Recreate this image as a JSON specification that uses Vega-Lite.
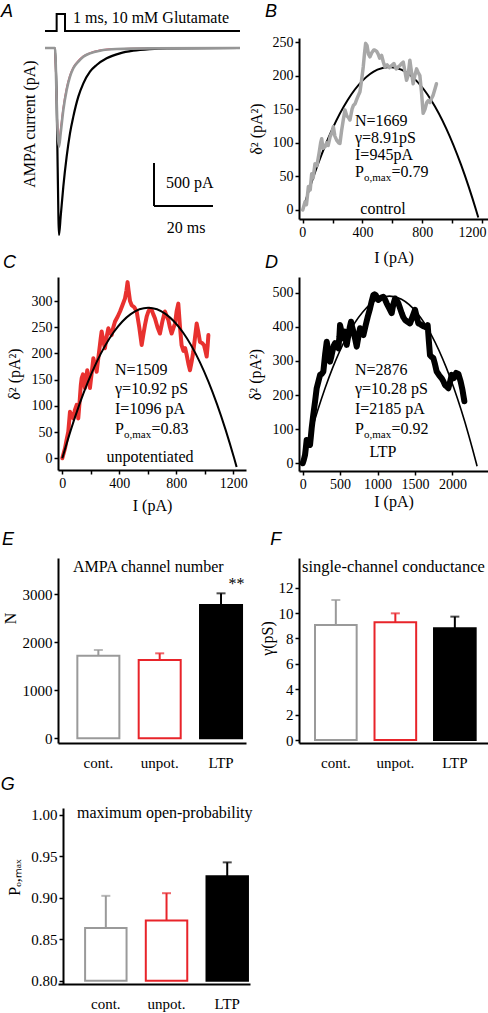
{
  "$schema": "https://vega.github.io/schema/vega-lite/v6.json",
  "autosize": {"type": "none", "contains": "content"},
  "padding": {"left": 58, "top": 38, "right": 430, "bottom": 975},
  "background": "white",
  "columns": 2,
  "spacing": {"row": 0, "column": 49},
  "bounds": "flush",
  "align": "each",
  "config": {
    "view": {"stroke": null},
    "axis": {"domainColor": "black", "domainWidth": 2, "tickColor": "black", "tickWidth": 1.5, "tickSize": 4, "labelFont": "Liberation Serif", "labelFontSize": 14, "labelColor": "black", "labelPadding": 2, "labelOverlap": false, "labelFlush": false, "labelBound": false, "titleFont": "Liberation Serif", "titleFontSize": 16, "titleFontWeight": "normal", "titleColor": "black", "grid": false},
    "text": {"font": "Liberation Serif", "fontSize": 16, "color": "black"}
  },
  "concat": [
    {
      "width": 188, "height": 181,
      "layer": [
        {"data": {"values": [{"t":0,"pA":198},{"t":3.95,"pA":395},{"t":6.78,"pA":198},{"t":66.1,"pA":198}]},
         "mark": {"type": "line", "color": "black", "strokeWidth": 2, "interpolate": "step-after"},
         "encoding": {"x": {"field": "t", "type": "quantitative", "scale": {"domain": [4.407, 68.14], "nice": false, "zero": false}, "axis": null},
                      "y": {"field": "pA", "type": "quantitative", "scale": {"domain": [-1988.4, 116.3], "nice": false, "zero": false}, "axis": null}}},
        {"data": {"values": [{"t":0,"pA":0},{"t":3.39,"pA":0},{"t":3.95,"pA":-605},{"t":4.29,"pA":-1380},{"t":4.75,"pA":-2175},{"t":5.31,"pA":-1962},{"t":6.21,"pA":-1613},{"t":7.34,"pA":-1264},{"t":8.47,"pA":-992},{"t":9.6,"pA":-798},{"t":11.3,"pA":-566},{"t":13.0,"pA":-411},{"t":15.25,"pA":-275},{"t":17.5,"pA":-198},{"t":20.9,"pA":-120},{"t":25.4,"pA":-62},{"t":29.9,"pA":-31},{"t":35.6,"pA":-12},{"t":41.3,"pA":-4},{"t":66.1,"pA":0}]},
         "mark": {"type": "line", "color": "black", "strokeWidth": 2.2, "interpolate": "monotone"},
         "encoding": {"x": {"field": "t", "type": "quantitative"}, "y": {"field": "pA", "type": "quantitative"}}},
        {"data": {"values": [{"t":3.39,"pA":0},{"t":3.95,"pA":-600},{"t":4.29,"pA":-950},{"t":4.75,"pA":-1089},{"t":5.31,"pA":-940},{"t":6.21,"pA":-690},{"t":7.34,"pA":-465},{"t":8.47,"pA":-318},{"t":9.6,"pA":-225},{"t":11.3,"pA":-150},{"t":13.0,"pA":-95},{"t":15.25,"pA":-58},{"t":18.6,"pA":-28},{"t":24.3,"pA":-10},{"t":35.6,"pA":-3},{"t":66.1,"pA":0}]},
         "mark": {"type": "line", "color": "#e0405e", "strokeWidth": 1.6, "interpolate": "monotone"},
         "encoding": {"x": {"field": "t", "type": "quantitative"}, "y": {"field": "pA", "type": "quantitative"}}},
        {"data": {"values": [{"t":0,"pA":0},{"t":3.39,"pA":0},{"t":3.95,"pA":-605},{"t":4.29,"pA":-992},{"t":4.75,"pA":-1147},{"t":5.31,"pA":-992},{"t":6.21,"pA":-721},{"t":7.34,"pA":-488},{"t":8.47,"pA":-333},{"t":9.6,"pA":-236},{"t":11.3,"pA":-159},{"t":13.0,"pA":-101},{"t":15.25,"pA":-62},{"t":18.6,"pA":-31},{"t":24.3,"pA":-12},{"t":35.6,"pA":-4},{"t":66.1,"pA":0}]},
         "mark": {"type": "line", "color": "#969696", "strokeWidth": 2.6, "interpolate": "monotone"},
         "encoding": {"x": {"field": "t", "type": "quantitative"}, "y": {"field": "pA", "type": "quantitative"}}},
        {"data": {"values": [{}]}, "mark": {"type": "rule", "color": "black", "strokeWidth": 2},
         "encoding": {"x": {"datum": 36.95, "type": "quantitative"}, "y": {"datum": -1337, "type": "quantitative"}, "y2": {"datum": -1837}}},
        {"data": {"values": [{}]}, "mark": {"type": "rule", "color": "black", "strokeWidth": 2},
         "encoding": {"x": {"datum": 36.95, "type": "quantitative"}, "x2": {"datum": 56.95}, "y": {"datum": -1837, "type": "quantitative"}}},
        {"data": {"values": [{}]}, "mark": {"type": "text", "align": "left", "baseline": "alphabetic", "fontSize": 16},
         "encoding": {"x": {"datum": 9.49, "type": "quantitative"}, "y": {"datum": 290.7, "type": "quantitative"}, "text": {"value": "1 ms, 10 mM Glutamate"}}},
        {"data": {"values": [{}]}, "mark": {"type": "text", "align": "left", "baseline": "alphabetic", "fontSize": 16},
         "encoding": {"x": {"datum": 41.0, "type": "quantitative"}, "y": {"datum": -1628, "type": "quantitative"}, "text": {"value": "500 pA"}}},
        {"data": {"values": [{}]}, "mark": {"type": "text", "align": "left", "baseline": "alphabetic", "fontSize": 16},
         "encoding": {"x": {"datum": 41.25, "type": "quantitative"}, "y": {"datum": -2151, "type": "quantitative"}, "text": {"value": "20 ms"}}},
        {"data": {"values": [{}]}, "mark": {"type": "text", "align": "center", "baseline": "alphabetic", "fontSize": 16, "angle": 270},
         "encoding": {"x": {"datum": -3.39, "type": "quantitative"}, "y": {"datum": -883.7, "type": "quantitative"}, "text": {"value": "AMPA current (pA)"}}},
        {"data": {"values": [{}]}, "mark": {"type": "text", "align": "left", "baseline": "alphabetic", "fontSize": 18, "font": "Liberation Sans", "fontStyle": "italic"},
         "encoding": {"x": {"datum": -14.9, "type": "quantitative"}, "y": {"datum": 360.5, "type": "quantitative"}, "text": {"value": "A"}}}
      ]
    },
    {
      "width": 189, "height": 181,
      "layer": [
        {"data": {"values": [{"I":0,"v":0},{"I":50,"v":35.1},{"I":100,"v":67.1},{"I":150,"v":95.9},{"I":200,"v":121.6},{"I":300,"v":163.4},{"I":400,"v":192.5},{"I":500,"v":208.9},{"I":580,"v":213},{"I":660,"v":208.9},{"I":760,"v":192.5},{"I":860,"v":163.4},{"I":960,"v":121.6},{"I":1060,"v":67.1},{"I":1110,"v":35.1},{"I":1160,"v":0},{"I":1175,"v":-11.2}]},
         "mark": {"type": "line", "color": "black", "strokeWidth": 2, "interpolate": "monotone"},
         "encoding": {"x": {"field": "I", "type": "quantitative", "scale": {"domain": [-25, 1240], "nice": false, "zero": false},
                            "axis": {"values": [0,200,400,600,800,1000,1200], "tickCount": 20, "format": "d", "labelExpr": "datum.value % 400 === 0 ? datum.label : ''", "labelFlush": 10, "labelFlushOffset": 4, "title": "I (pA)", "titlePadding": 10}},
                      "y": {"field": "v", "type": "quantitative", "scale": {"domain": [-13.4, 256], "nice": false, "zero": false},
                            "axis": {"values": [0,50,100,150,200,250], "tickCount": 20, "format": "d", "title": "δ² (pA²)", "titlePadding": 8}}}},
        {"data": {"values": [{"I":0,"v":0},{"I":15,"v":12},{"I":25,"v":8},{"I":38,"v":35},{"I":50,"v":30},{"I":60,"v":54},{"I":70,"v":48},{"I":82,"v":69},{"I":95,"v":66},{"I":109,"v":84},{"I":120,"v":100},{"I":127,"v":106},{"I":135,"v":92},{"I":149,"v":94},{"I":160,"v":100},{"I":170,"v":96},{"I":183,"v":109},{"I":195,"v":115},{"I":205,"v":124},{"I":215,"v":110},{"I":227,"v":104},{"I":240,"v":100},{"I":249,"v":99},{"I":260,"v":118},{"I":272,"v":135},{"I":283,"v":149},{"I":295,"v":140},{"I":305,"v":138},{"I":316,"v":134},{"I":330,"v":150},{"I":340,"v":156},{"I":350,"v":158},{"I":362,"v":165},{"I":375,"v":172},{"I":383,"v":176},{"I":395,"v":195},{"I":405,"v":213},{"I":413,"v":232},{"I":421,"v":248},{"I":430,"v":245},{"I":440,"v":232},{"I":450,"v":228},{"I":462,"v":234},{"I":475,"v":238},{"I":483,"v":238},{"I":495,"v":236},{"I":505,"v":232},{"I":515,"v":226},{"I":528,"v":230},{"I":540,"v":220},{"I":550,"v":213},{"I":565,"v":216},{"I":580,"v":212},{"I":595,"v":215},{"I":610,"v":218},{"I":625,"v":210},{"I":639,"v":213},{"I":650,"v":215},{"I":662,"v":218},{"I":673,"v":220},{"I":685,"v":205},{"I":695,"v":193},{"I":705,"v":200},{"I":717,"v":223},{"I":728,"v":205},{"I":739,"v":188},{"I":750,"v":200},{"I":762,"v":210},{"I":772,"v":205},{"I":784,"v":200},{"I":795,"v":175},{"I":806,"v":144},{"I":818,"v":150},{"I":830,"v":160},{"I":840,"v":163},{"I":852,"v":160},{"I":862,"v":166},{"I":873,"v":171},{"I":885,"v":180},{"I":895,"v":188}]},
         "mark": {"type": "line", "color": "#a8a8a8", "strokeWidth": 3.5, "strokeJoin": "round", "strokeCap": "round"},
         "encoding": {"x": {"field": "I", "type": "quantitative"}, "y": {"field": "v", "type": "quantitative"}}},
        {"data": {"values": [{}]}, "mark": {"type": "text", "align": "left", "baseline": "alphabetic", "fontSize": 16, "lineHeight": 17},
         "encoding": {"x": {"datum": 350, "type": "quantitative"}, "y": {"datum": 125, "type": "quantitative"}, "text": {"value": ["N=1669", "γ=8.91pS", "I=945pA"]}}},
        {"data": {"values": [{}]}, "mark": {"type": "text", "align": "left", "baseline": "alphabetic", "fontSize": 16},
         "encoding": {"x": {"datum": 350, "type": "quantitative"}, "y": {"datum": 49.1, "type": "quantitative"}, "text": {"value": "P"}}},
        {"data": {"values": [{}]}, "mark": {"type": "text", "align": "left", "baseline": "alphabetic", "fontSize": 11, "dx": 9, "dy": 4},
         "encoding": {"x": {"datum": 350, "type": "quantitative"}, "y": {"datum": 49.1, "type": "quantitative"}, "text": {"value": "o,max"}}},
        {"data": {"values": [{}]}, "mark": {"type": "text", "align": "left", "baseline": "alphabetic", "fontSize": 16, "dx": 36.5},
         "encoding": {"x": {"datum": 350, "type": "quantitative"}, "y": {"datum": 49.1, "type": "quantitative"}, "text": {"value": "=0.79"}}},
        {"data": {"values": [{}]}, "mark": {"type": "text", "align": "center", "baseline": "alphabetic", "fontSize": 16},
         "encoding": {"x": {"datum": 537, "type": "quantitative"}, "y": {"datum": -6, "type": "quantitative"}, "text": {"value": "control"}}},
        {"data": {"values": [{}]}, "mark": {"type": "text", "align": "left", "baseline": "alphabetic", "fontSize": 18, "font": "Liberation Sans", "fontStyle": "italic"},
         "encoding": {"x": {"datum": -252, "type": "quantitative"}, "y": {"datum": 287.2, "type": "quantitative"}, "text": {"value": "B"}}}
      ]
    },
    {"width": 10, "height": 58, "data": {"values": []}, "mark": "point"},
    {"width": 10, "height": 58, "data": {"values": []}, "mark": "point"},
    {
      "width": 188, "height": 193,
      "layer": [
        {"data": {"values": [{"I":0,"v":0},{"I":10,"v":10},{"I":19,"v":19},{"I":30,"v":35},{"I":42,"v":51},{"I":48,"v":70},{"I":54,"v":89},{"I":62,"v":80},{"I":70,"v":85},{"I":77,"v":76},{"I":88,"v":92},{"I":101,"v":102},{"I":107,"v":90},{"I":112,"v":76},{"I":122,"v":110},{"I":130,"v":140},{"I":136,"v":153},{"I":145,"v":160},{"I":152,"v":145},{"I":159,"v":134},{"I":167,"v":150},{"I":175,"v":168},{"I":185,"v":150},{"I":194,"v":134},{"I":205,"v":160},{"I":218,"v":191},{"I":228,"v":180},{"I":241,"v":165},{"I":252,"v":190},{"I":264,"v":216},{"I":270,"v":230},{"I":276,"v":242},{"I":287,"v":225},{"I":299,"v":210},{"I":310,"v":230},{"I":323,"v":248},{"I":335,"v":240},{"I":346,"v":235},{"I":358,"v":250},{"I":370,"v":261},{"I":388,"v":270},{"I":405,"v":280},{"I":422,"v":292},{"I":440,"v":305},{"I":450,"v":320},{"I":458,"v":336},{"I":465,"v":320},{"I":475,"v":300},{"I":487,"v":292},{"I":505,"v":288},{"I":522,"v":280},{"I":540,"v":250},{"I":557,"v":216},{"I":568,"v":235},{"I":580,"v":254},{"I":592,"v":270},{"I":604,"v":280},{"I":615,"v":285},{"I":627,"v":283},{"I":638,"v":275},{"I":650,"v":267},{"I":668,"v":250},{"I":685,"v":238},{"I":703,"v":262},{"I":720,"v":280},{"I":732,"v":272},{"I":744,"v":264},{"I":755,"v":250},{"I":767,"v":238},{"I":779,"v":248},{"I":791,"v":257},{"I":802,"v":280},{"I":814,"v":295},{"I":826,"v":250},{"I":837,"v":216},{"I":850,"v":205},{"I":862,"v":210},{"I":873,"v":197},{"I":885,"v":180},{"I":896,"v":168},{"I":908,"v":185},{"I":919,"v":203},{"I":931,"v":230},{"I":943,"v":257},{"I":955,"v":240},{"I":966,"v":222},{"I":980,"v":220},{"I":994,"v":216},{"I":1004,"v":205},{"I":1013,"v":194},{"I":1020,"v":215},{"I":1025,"v":235}]},
         "mark": {"type": "line", "color": "#e8312f", "strokeWidth": 4, "strokeJoin": "round", "strokeCap": "round"},
         "encoding": {"x": {"field": "I", "type": "quantitative", "scale": {"domain": [-30.2, 1289], "nice": false, "zero": false},
                            "axis": {"values": [0,200,400,600,800,1000,1200], "tickCount": 20, "format": "d", "labelExpr": "datum.value % 400 === 0 ? datum.label : ''", "title": "I (pA)", "titlePadding": 7}},
                      "y": {"field": "v", "type": "quantitative", "scale": {"domain": [-22.3, 345.8], "nice": false, "zero": false},
                            "axis": {"values": [0,50,100,150,200,250,300], "tickCount": 20, "format": "d", "title": "δ² (pA²)", "titlePadding": 9}}}},
        {"data": {"values": [{"I":0,"v":0},{"I":60,"v":54.3},{"I":120,"v":102.9},{"I":180,"v":145.8},{"I":240,"v":183},{"I":360,"v":240.4},{"I":480,"v":275.1},{"I":603,"v":287},{"I":726,"v":275.1},{"I":846,"v":240.4},{"I":966,"v":183},{"I":1026,"v":145.8},{"I":1086,"v":102.9},{"I":1146,"v":54.3},{"I":1206,"v":0},{"I":1223,"v":-16.4}]},
         "mark": {"type": "line", "color": "black", "strokeWidth": 2, "interpolate": "monotone"},
         "encoding": {"x": {"field": "I", "type": "quantitative"}, "y": {"field": "v", "type": "quantitative"}}},
        {"data": {"values": [{}]}, "mark": {"type": "text", "align": "left", "baseline": "alphabetic", "fontSize": 16, "lineHeight": 19.5},
         "encoding": {"x": {"datum": 370, "type": "quantitative"}, "y": {"datum": 158.9, "type": "quantitative"}, "text": {"value": ["N=1509", "γ=10.92 pS", "I=1096 pA"]}}},
        {"data": {"values": [{}]}, "mark": {"type": "text", "align": "left", "baseline": "alphabetic", "fontSize": 16},
         "encoding": {"x": {"datum": 370, "type": "quantitative"}, "y": {"datum": 47.3, "type": "quantitative"}, "text": {"value": "P"}}},
        {"data": {"values": [{}]}, "mark": {"type": "text", "align": "left", "baseline": "alphabetic", "fontSize": 11, "dx": 9, "dy": 4},
         "encoding": {"x": {"datum": 370, "type": "quantitative"}, "y": {"datum": 47.3, "type": "quantitative"}, "text": {"value": "o,max"}}},
        {"data": {"values": [{}]}, "mark": {"type": "text", "align": "left", "baseline": "alphabetic", "fontSize": 16, "dx": 36.5},
         "encoding": {"x": {"datum": 370, "type": "quantitative"}, "y": {"datum": 47.3, "type": "quantitative"}, "text": {"value": "=0.83"}}},
        {"data": {"values": [{}]}, "mark": {"type": "text", "align": "center", "baseline": "alphabetic", "fontSize": 16},
         "encoding": {"x": {"datum": 615, "type": "quantitative"}, "y": {"datum": -7.1, "type": "quantitative"}, "text": {"value": "unpotentiated"}}},
        {"data": {"values": [{}]}, "mark": {"type": "text", "align": "left", "baseline": "alphabetic", "fontSize": 18, "font": "Liberation Sans", "fontStyle": "italic"},
         "encoding": {"x": {"datum": -416, "type": "quantitative"}, "y": {"datum": 363, "type": "quantitative"}, "text": {"value": "C"}}}
      ]
    },
    {
      "width": 189, "height": 194,
      "layer": [
        {"data": {"values": [{"I":0,"v":0},{"I":15,"v":10},{"I":31,"v":24},{"I":42,"v":45},{"I":53,"v":68},{"I":75,"v":60},{"I":98,"v":54},{"I":110,"v":80},{"I":120,"v":103},{"I":140,"v":140},{"I":165,"v":181},{"I":187,"v":220},{"I":210,"v":240},{"I":232,"v":259},{"I":255,"v":262},{"I":276,"v":269},{"I":300,"v":320},{"I":321,"v":356},{"I":340,"v":330},{"I":365,"v":298},{"I":380,"v":310},{"I":396,"v":327},{"I":415,"v":345},{"I":432,"v":352},{"I":455,"v":345},{"I":477,"v":337},{"I":490,"v":370},{"I":499,"v":405},{"I":520,"v":385},{"I":543,"v":366},{"I":555,"v":375},{"I":566,"v":386},{"I":578,"v":365},{"I":588,"v":347},{"I":610,"v":375},{"I":630,"v":400},{"I":646,"v":415},{"I":660,"v":400},{"I":677,"v":386},{"I":700,"v":365},{"I":722,"v":342},{"I":744,"v":370},{"I":766,"v":396},{"I":790,"v":385},{"I":811,"v":376},{"I":826,"v":390},{"I":842,"v":405},{"I":870,"v":430},{"I":900,"v":454},{"I":922,"v":475},{"I":944,"v":493},{"I":960,"v":495},{"I":976,"v":493},{"I":994,"v":485},{"I":1011,"v":479},{"I":1045,"v":485},{"I":1078,"v":488},{"I":1100,"v":480},{"I":1122,"v":469},{"I":1155,"v":455},{"I":1189,"v":440},{"I":1210,"v":465},{"I":1234,"v":483},{"I":1256,"v":478},{"I":1278,"v":469},{"I":1300,"v":455},{"I":1323,"v":440},{"I":1345,"v":428},{"I":1368,"v":420},{"I":1400,"v":415},{"I":1434,"v":410},{"I":1468,"v":430},{"I":1501,"v":450},{"I":1523,"v":430},{"I":1545,"v":410},{"I":1568,"v":408},{"I":1590,"v":405},{"I":1612,"v":402},{"I":1634,"v":400},{"I":1652,"v":398},{"I":1670,"v":405},{"I":1685,"v":360},{"I":1701,"v":317},{"I":1723,"v":312},{"I":1746,"v":308},{"I":1768,"v":290},{"I":1790,"v":269},{"I":1824,"v":258},{"I":1857,"v":249},{"I":1880,"v":240},{"I":1902,"v":229},{"I":1924,"v":225},{"I":1946,"v":220},{"I":1970,"v":240},{"I":1991,"v":259},{"I":2020,"v":250},{"I":2050,"v":265},{"I":2080,"v":262},{"I":2110,"v":240},{"I":2135,"v":215},{"I":2150,"v":195},{"I":2160,"v":182}]},
         "mark": {"type": "line", "color": "black", "strokeWidth": 6, "strokeJoin": "round", "strokeCap": "round"},
         "encoding": {"x": {"field": "I", "type": "quantitative", "scale": {"domain": [-49.4, 2476], "nice": false, "zero": false},
                            "axis": {"values": [0,500,1000,1500,2000], "tickCount": 20, "format": "d", "title": "I (pA)", "titlePadding": 2}},
                      "y": {"field": "v", "type": "quantitative", "scale": {"domain": [-22.6, 546], "nice": false, "zero": false},
                            "axis": {"values": [0,100,200,300,400,500], "tickCount": 20, "format": "d", "title": "δ² (pA²)", "titlePadding": 9}}}},
        {"data": {"values": [{"I":0,"v":0},{"I":100,"v":80.9},{"I":200,"v":154.4},{"I":300,"v":220.6},{"I":400,"v":279.6},{"I":600,"v":375.8},{"I":800,"v":442.8},{"I":1000,"v":480.7},{"I":1160,"v":490},{"I":1320,"v":480.7},{"I":1520,"v":442.8},{"I":1720,"v":375.8},{"I":1920,"v":279.6},{"I":2020,"v":220.6},{"I":2120,"v":154.4},{"I":2220,"v":80.9},{"I":2320,"v":0},{"I":2330,"v":-8.5}]},
         "mark": {"type": "line", "color": "black", "strokeWidth": 1.6, "interpolate": "monotone"},
         "encoding": {"x": {"field": "I", "type": "quantitative"}, "y": {"field": "v", "type": "quantitative"}}},
        {"data": {"values": [{}]}, "mark": {"type": "text", "align": "left", "baseline": "alphabetic", "fontSize": 16, "lineHeight": 19.5},
         "encoding": {"x": {"datum": 699, "type": "quantitative"}, "y": {"datum": 258.8, "type": "quantitative"}, "text": {"value": ["N=2876", "γ=10.28 pS", "I=2185 pA"]}}},
        {"data": {"values": [{}]}, "mark": {"type": "text", "align": "left", "baseline": "alphabetic", "fontSize": 16},
         "encoding": {"x": {"datum": 699, "type": "quantitative"}, "y": {"datum": 87.3, "type": "quantitative"}, "text": {"value": "P"}}},
        {"data": {"values": [{}]}, "mark": {"type": "text", "align": "left", "baseline": "alphabetic", "fontSize": 11, "dx": 9, "dy": 4},
         "encoding": {"x": {"datum": 699, "type": "quantitative"}, "y": {"datum": 87.3, "type": "quantitative"}, "text": {"value": "o,max"}}},
        {"data": {"values": [{}]}, "mark": {"type": "text", "align": "left", "baseline": "alphabetic", "fontSize": 16, "dx": 36.5},
         "encoding": {"x": {"datum": 699, "type": "quantitative"}, "y": {"datum": 87.3, "type": "quantitative"}, "text": {"value": "=0.92"}}},
        {"data": {"values": [{}]}, "mark": {"type": "text", "align": "center", "baseline": "alphabetic", "fontSize": 16},
         "encoding": {"x": {"datum": 1073, "type": "quantitative"}, "y": {"datum": 18.5, "type": "quantitative"}, "text": {"value": "LTP"}}},
        {"data": {"values": [{}]}, "mark": {"type": "text", "align": "left", "baseline": "alphabetic", "fontSize": 18, "font": "Liberation Sans", "fontStyle": "italic"},
         "encoding": {"x": {"datum": -504, "type": "quantitative"}, "y": {"datum": 572.4, "type": "quantitative"}, "text": {"value": "D"}}}
      ]
    },
    {"width": 10, "height": 87, "data": {"values": []}, "mark": "point"},
    {"width": 10, "height": 87, "data": {"values": []}, "mark": "point"},
    {
      "width": 188, "height": 185,
      "data": {"values": [{"cond": "cont.", "m": 1720, "hi": 1840}, {"cond": "unpot.", "m": 1632, "hi": 1770}, {"cond": "LTP", "m": 2778, "hi": 3020}]},
      "layer": [
        {"mark": {"type": "bar", "strokeWidth": 2},
         "encoding": {"x": {"field": "cond", "type": "nominal", "sort": null, "scale": {"domain": ["cont.", "unpot.", "LTP"], "paddingInner": 0.315, "paddingOuter": 0.19, "align": 0.83},
                            "axis": {"title": null, "ticks": false, "labelAngle": 0, "labelFontSize": 15, "labelPadding": 12}},
                      "y": {"field": "m", "type": "quantitative", "scale": {"domain": [-98, 3756], "nice": false, "zero": false},
                            "axis": {"values": [0, 1000, 2000, 3000], "tickCount": 20, "format": "d", "labelFontSize": 15, "title": "N", "titlePadding": 4, "titleY": 60}},
                      "y2": {"datum": 0},
                      "fill": {"field": "cond", "type": "nominal", "scale": {"domain": ["cont.", "unpot.", "LTP"], "range": ["white", "white", "black"]}, "legend": null},
                      "stroke": {"field": "cond", "type": "nominal", "scale": {"domain": ["cont.", "unpot.", "LTP"], "range": ["#9a9a9a", "#e8242a", "black"]}, "legend": null}}},
        {"mark": {"type": "rule", "strokeWidth": 2},
         "encoding": {"x": {"field": "cond", "type": "nominal", "sort": null}, "y": {"field": "m", "type": "quantitative"}, "y2": {"field": "hi"},
                      "stroke": {"field": "cond", "type": "nominal", "legend": null}}},
        {"mark": {"type": "tick", "size": 9, "thickness": 2},
         "encoding": {"x": {"field": "cond", "type": "nominal", "sort": null}, "y": {"field": "hi", "type": "quantitative"},
                      "color": {"field": "cond", "type": "nominal", "scale": {"domain": ["cont.", "unpot.", "LTP"], "range": ["#9a9a9a", "#e8242a", "black"]}, "legend": null}}},
        {"data": {"values": [{}]}, "mark": {"type": "text", "align": "left", "baseline": "middle", "fontSize": 16, "dx": -25.3},
         "encoding": {"x": {"datum": "cont.", "type": "nominal"}, "y": {"datum": 3569, "type": "quantitative"}, "text": {"value": "AMPA channel number"}}},
        {"data": {"values": [{}]}, "mark": {"type": "text", "align": "center", "baseline": "middle", "fontSize": 16, "dx": 15.5},
         "encoding": {"x": {"datum": "LTP", "type": "nominal"}, "y": {"datum": 3215, "type": "quantitative"}, "text": {"value": "**"}}},
        {"data": {"values": [{}]}, "mark": {"type": "text", "align": "left", "baseline": "alphabetic", "fontSize": 18, "font": "Liberation Sans", "fontStyle": "italic", "dx": -96.3},
         "encoding": {"x": {"datum": "cont.", "type": "nominal"}, "y": {"datum": 4027, "type": "quantitative"}, "text": {"value": "E"}}}
      ]
    },
    {
      "width": 189, "height": 185,
      "data": {"values": [{"cond": "cont.", "m": 9.06, "hi": 11.03}, {"cond": "unpot.", "m": 9.27, "hi": 9.98}, {"cond": "LTP", "m": 8.8, "hi": 9.72}]},
      "layer": [
        {"mark": {"type": "bar", "strokeWidth": 2},
         "encoding": {"x": {"field": "cond", "type": "nominal", "sort": null, "scale": {"domain": ["cont.", "unpot.", "LTP"], "paddingInner": 0.3, "paddingOuter": 0.238, "align": 0.565},
                            "axis": {"title": null, "ticks": false, "labelAngle": 0, "labelFontSize": 15, "labelPadding": 12}},
                      "y": {"field": "m", "type": "quantitative", "scale": {"domain": [-0.236, 14.34], "nice": false, "zero": false},
                            "axis": {"values": [0, 2, 4, 6, 8, 10, 12], "tickCount": 20, "format": "d", "labelFontSize": 15, "title": "γ(pS)", "titlePadding": 3, "titleY": 80}},
                      "y2": {"datum": 0},
                      "fill": {"field": "cond", "type": "nominal", "scale": {"domain": ["cont.", "unpot.", "LTP"], "range": ["white", "white", "black"]}, "legend": null},
                      "stroke": {"field": "cond", "type": "nominal", "scale": {"domain": ["cont.", "unpot.", "LTP"], "range": ["#9a9a9a", "#e8242a", "black"]}, "legend": null}}},
        {"mark": {"type": "rule", "strokeWidth": 2},
         "encoding": {"x": {"field": "cond", "type": "nominal", "sort": null}, "y": {"field": "m", "type": "quantitative"}, "y2": {"field": "hi"},
                      "stroke": {"field": "cond", "type": "nominal", "legend": null}}},
        {"mark": {"type": "tick", "size": 9, "thickness": 2},
         "encoding": {"x": {"field": "cond", "type": "nominal", "sort": null}, "y": {"field": "hi", "type": "quantitative"},
                      "color": {"field": "cond", "type": "nominal", "scale": {"domain": ["cont.", "unpot.", "LTP"], "range": ["#9a9a9a", "#e8242a", "black"]}, "legend": null}}},
        {"data": {"values": [{}]}, "mark": {"type": "text", "align": "left", "baseline": "middle", "fontSize": 16.5, "dx": -33.8},
         "encoding": {"x": {"datum": "cont.", "type": "nominal"}, "y": {"datum": 13.63, "type": "quantitative"}, "text": {"value": "single-channel conductance"}}},
        {"data": {"values": [{}]}, "mark": {"type": "text", "align": "left", "baseline": "alphabetic", "fontSize": 18, "font": "Liberation Sans", "fontStyle": "italic", "dx": -65.5},
         "encoding": {"x": {"datum": "cont.", "type": "nominal"}, "y": {"datum": 15.37, "type": "quantitative"}, "text": {"value": "F"}}}
      ]
    },
    {"width": 10, "height": 65, "data": {"values": []}, "mark": "point"},
    {"width": 10, "height": 65, "data": {"values": []}, "mark": "point"},
    {
      "width": 192, "height": 176,
      "data": {"values": [{"cond": "cont.", "m": 0.8636, "hi": 0.9024}, {"cond": "unpot.", "m": 0.8728, "hi": 0.9056}, {"cond": "LTP", "m": 0.926, "hi": 0.9428}]},
      "layer": [
        {"mark": {"type": "bar", "strokeWidth": 2},
         "encoding": {"x": {"field": "cond", "type": "nominal", "sort": null, "scale": {"domain": ["cont.", "unpot.", "LTP"], "paddingInner": 0.317, "paddingOuter": 0.24, "align": 0.93},
                            "axis": {"title": null, "ticks": false, "labelAngle": 0, "labelFontSize": 15, "labelPadding": 12}},
                      "y": {"field": "m", "type": "quantitative", "scale": {"domain": [0.79604, 1.0084], "nice": false, "zero": false},
                            "axis": {"values": [0.8, 0.85, 0.9, 0.95, 1.0], "tickCount": 20, "format": ".2f", "labelFontSize": 15, "offset": -5, "title": "Pₒ,ₘₐₓ", "titlePadding": 8, "titleY": 69}},
                      "y2": {"datum": 0.8},
                      "fill": {"field": "cond", "type": "nominal", "scale": {"domain": ["cont.", "unpot.", "LTP"], "range": ["white", "white", "black"]}, "legend": null},
                      "stroke": {"field": "cond", "type": "nominal", "scale": {"domain": ["cont.", "unpot.", "LTP"], "range": ["#9a9a9a", "#e8242a", "black"]}, "legend": null}}},
        {"mark": {"type": "rule", "strokeWidth": 2},
         "encoding": {"x": {"field": "cond", "type": "nominal", "sort": null}, "y": {"field": "m", "type": "quantitative"}, "y2": {"field": "hi"},
                      "stroke": {"field": "cond", "type": "nominal", "legend": null}}},
        {"mark": {"type": "tick", "size": 9, "thickness": 2},
         "encoding": {"x": {"field": "cond", "type": "nominal", "sort": null}, "y": {"field": "hi", "type": "quantitative"},
                      "color": {"field": "cond", "type": "nominal", "scale": {"domain": ["cont.", "unpot.", "LTP"], "range": ["#9a9a9a", "#e8242a", "black"]}, "legend": null}}},
        {"data": {"values": [{}]}, "mark": {"type": "text", "align": "left", "baseline": "middle", "fontSize": 16, "dx": -28.8},
         "encoding": {"x": {"datum": "cont.", "type": "nominal"}, "y": {"datum": 1.0028, "type": "quantitative"}, "text": {"value": "maximum open-probability"}}},
        {"data": {"values": [{}]}, "mark": {"type": "text", "align": "left", "baseline": "alphabetic", "fontSize": 18, "font": "Liberation Sans", "fontStyle": "italic", "dx": -105},
         "encoding": {"x": {"datum": "cont.", "type": "nominal"}, "y": {"datum": 1.03, "type": "quantitative"}, "text": {"value": "G"}}}
      ]
    }
  ]
}
